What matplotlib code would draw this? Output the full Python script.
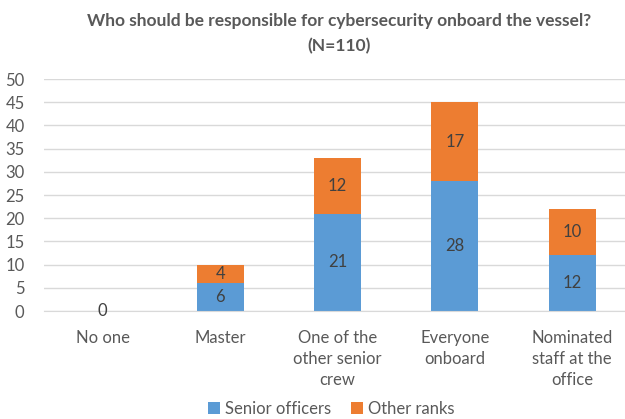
import matplotlib.pyplot as plt
import numpy as np

categories = ["No one", "Master", "One of the\nother senior\ncrew", "Everyone\nonboard", "Nominated\nstaff at the\noffice"]
senior = [0, 6, 21, 28, 12]
other = [0, 4, 12, 17, 10]

plt.rcParams['font.family'] = ['Lato', 'DejaVu Sans']
grey = '#595959'

fig = plt.figure(figsize=(6.25, 4.19), dpi=100)
ax = fig.add_axes([44 / 625, 108 / 419, 587 / 625, 232 / 419])

x = np.arange(len(categories))
w = 0.4
b1 = ax.bar(x, senior, w, color='#5B9BD5', label='Senior officers', zorder=2)
b2 = ax.bar(x, other, w, bottom=senior, color='#ED7D31', label='Other ranks', zorder=2)

for i in range(len(x)):
    if senior[i] > 0:
        ax.text(x[i], senior[i] / 2, str(senior[i]), ha='center', va='center', fontsize=12, color='#404040')
    if other[i] > 0:
        ax.text(x[i], senior[i] + other[i] / 2, str(other[i]), ha='center', va='center', fontsize=12, color='#404040')
    if senior[i] + other[i] == 0:
        ax.text(x[i], 0, "0", ha='center', va='center', fontsize=12, color='#404040')

ax.set_xlim(-0.5, len(x) - 0.5)
ax.set_ylim(0, 50)
ax.set_yticks(range(0, 51, 5))
ax.set_xticks(x)
ax.set_xticklabels(categories, fontsize=12, color=grey, linespacing=1.35)
ax.tick_params(axis='both', length=0, labelsize=12, labelcolor=grey)
ax.tick_params(axis='x', pad=14)
ax.tick_params(axis='y', pad=14)
ax.grid(axis='y', color='#D9D9D9', linewidth=1, zorder=0)
for s in ['top', 'right', 'left']:
    ax.spines[s].set_visible(False)
ax.spines['bottom'].set_color('#D9D9D9')

fig.text(0.542, 0.92, "Who should be responsible for cybersecurity onboard the vessel?\n(N=110)",
         ha='center', va='center', fontsize=12.5, fontweight='bold', color=grey, linespacing=1.7)

fig.legend(handles=[b1, b2], loc='center', bbox_to_anchor=(0.53, 0.025), ncol=2, frameon=False,
           fontsize=12, labelcolor=grey, handlelength=0.7, handleheight=0.7, handletextpad=0.3, columnspacing=1.2)

fig.savefig('out.png', dpi=100)
